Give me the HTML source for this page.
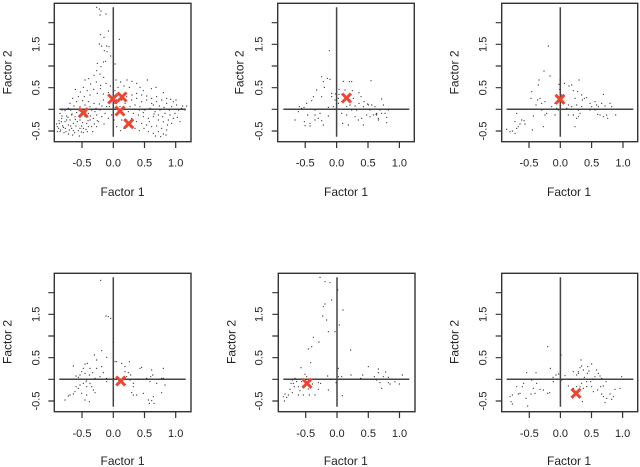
<!DOCTYPE html>
<html><head><meta charset="utf-8"><style>
html,body{margin:0;padding:0;background:#fff;}
svg{display:block;font-family:"Liberation Sans",Arial,sans-serif;}
.t{font-size:11px;fill:#222;}
.ti{font-size:12px;fill:#222;}
.bx{fill:none;stroke:#333;stroke-width:1.4;}
.ln{stroke:#444;stroke-width:1.5;}
.tk{stroke:#333;stroke-width:1.2;}
.d{fill:none;stroke:#222;stroke-width:3.6;stroke-linecap:round;}
.x{stroke:#ee4430;stroke-width:3;}
</style></head><body>
<svg width="640" height="467" viewBox="0 0 640 467" xmlns="http://www.w3.org/2000/svg">
<rect width="640" height="467" fill="#fff"/>

<!-- ============ PANEL 1 ============ -->
<g>
<rect class="bx" x="54.3" y="3.3" width="136.7" height="138.4"/>
<path class="tk" d="M82 141.7v6.3M113.3 141.7v6.3M144.5 141.7v6.3M175.7 141.7v6.3M82 141.7H175.7"/>
<path class="tk" d="M54.3 22.7h-6M54.3 44.3h-6M54.3 66h-6M54.3 87.7h-6M54.3 109.3h-6M54.3 131h-6"/>
<text class="t" x="82" y="166.7" text-anchor="middle">-0.5</text>
<text class="t" x="113.3" y="166.7" text-anchor="middle">0.0</text>
<text class="t" x="144.5" y="166.7" text-anchor="middle">0.5</text>
<text class="t" x="175.7" y="166.7" text-anchor="middle">1.0</text>
<text class="t" transform="translate(39.5,44.3) rotate(-90)" text-anchor="middle">1.5</text>
<text class="t" transform="translate(39.5,87.7) rotate(-90)" text-anchor="middle">0.5</text>
<text class="t" transform="translate(39.5,131) rotate(-90)" text-anchor="middle">-0.5</text>
<text class="ti" x="122.5" y="196" text-anchor="middle">Factor 1</text>
<text class="ti" transform="translate(11.7,72.5) rotate(-90)" text-anchor="middle">Factor 2</text>
<path class="ln" d="M113.3 7.3V136.7M59.3 109.3H185.7"/>
<g transform="scale(0.33333)">
<path class="d" d="M290 22h.1M298 27h.1M303 33h.1M318 42h.1M300 45h.1M325 93h.1M301 104h.1M312 112h.1M298 132h.1M305 138h.1M320 138h.1M327 140h.1M313 152h.1M321 155h.1M332 168h.1M358 118h.1M310 186h.1M317 184h.1M292 190h.1M345 192h.1M303 200h.1
M290 212h.1M282 226h.1M300 222h.1M311 232h.1M266 236h.1M255 240h.1M289 246h.1M318 250h.1M302 256h.1M272 252h.1M250 262h.1M226 268h.1M241 276h.1M262 272h.1M281 268h.1M301 266h.1M331 258h.1M348 240h.1M362 246h.1M381 240h.1M396 244h.1M410 250h.1M442 240h.1M468 262h.1M490 278h.1M354 262h.1M372 258h.1M388 262h.1M420 262h.1M430 272h.1M454 266h.1M345 272h.1M235 290h.1M218 295h.1M253 290h.1M270 285h.1M292 280h.1M310 282h.1M325 278h.1
M180 340h.1M185 355h.1M178 370h.1M190 382h.1M182 390h.1M195 365h.1M200 348h.1M205 375h.1M210 360h.1M198 395h.1M215 385h.1M220 370h.1M225 350h.1M230 338h.1M212 330h.1M240 360h.1M245 378h.1M235 392h.1M250 385h.1M260 370h.1M255 350h.1M265 340h.1M270 360h.1M275 380h.1M262 395h.1M280 355h.1M285 335h.1M290 345h.1M296 365h.1M300 330h.1M305 350h.1M290 380h.1M270 320h.1M255 315h.1M240 320h.1M222 318h.1M210 310h.1M230 305h.1M248 302h.1M265 305h.1M282 310h.1M298 312h.1M188 378h.1M176 385h.1M192 398h.1M205 402h.1M218 405h.1M238 408h.1M172 380h.1M184 365h.1M196 385h.1M208 390h.1M228 378h.1M242 345h.1M252 328h.1M275 330h.1M283 372h.1M265 380h.1M215 345h.1M205 325h.1M195 332h.1M220 392h.1M186 348h.1M177 362h.1M232 365h.1M248 368h.1M258 388h.1M172 395h.1M244 396h.1M212 378h.1M200 360h.1M226 358h.1M237 332h.1M310 300h.1M320 320h.1M315 340h.1M325 355h.1M312 372h.1
M380 290h.1M395 300h.1M410 295h.1M425 305h.1M440 300h.1M455 310h.1M470 305h.1M485 300h.1M500 310h.1M515 320h.1M530 315h.1M545 325h.1M390 320h.1M405 315h.1M420 320h.1M435 330h.1M450 325h.1M465 335h.1M480 330h.1M495 340h.1M510 345h.1M525 340h.1M400 340h.1M415 345h.1M430 350h.1M445 355h.1M460 350h.1M475 360h.1M490 365h.1M505 360h.1M520 355h.1M410 365h.1M425 370h.1M440 375h.1M455 380h.1M470 378h.1M485 385h.1M500 390h.1M445 395h.1M460 400h.1M475 395h.1M490 402h.1M395 355h.1M385 335h.1M375 310h.1M365 300h.1M360 320h.1M370 345h.1M380 360h.1M392 375h.1M405 385h.1M418 392h.1M432 385h.1M448 365h.1M462 342h.1M478 318h.1M492 322h.1M508 330h.1M520 305h.1M536 330h.1M548 318h.1M470 290h.1M455 295h.1M440 288h.1M425 285h.1M410 280h.1M396 285h.1M500 295h.1M512 298h.1M528 300h.1M350 300h.1M355 335h.1M365 360h.1M372 385h.1M362 392h.1M350 380h.1M342 360h.1M335 345h.1M328 320h.1M345 310h.1M460 315h.1M475 345h.1M488 350h.1M502 375h.1M515 370h.1M430 338h.1M418 330h.1M405 328h.1M498 405h.1M482 410h.1M466 408h.1M560 318h.1M555 330h.1M532 352h.1M540 365h.1
M216 342h.1M204 352h.1M258 336h.1M272 348h.1M288 325h.1M306 318h.1M240 385h.1M250 398h.1M224 398h.1M180 395h.1M264 362h.1M278 395h.1M292 362h.1M186 330h.1M170 372h.1"/>
</g>
<path class="x" d="M78.8 108.2l9 9M87.8 108.2l-9 9M108.2 94.5l9 9M117.2 94.5l-9 9M117.5 92.5l9 9M126.5 92.5l-9 9M115.5 106.5l9 9M124.5 106.5l-9 9M124.2 119.2l9 9M133.2 119.2l-9 9"/>
</g>

<!-- ============ PANEL 2 ============ -->
<g>
<rect class="bx" x="277.7" y="3.3" width="136.6" height="138.4"/>
<path class="tk" d="M305.2 141.7v6.3M336.6 141.7v6.3M368 141.7v6.3M399.4 141.7v6.3M305.2 141.7H399.4"/>
<path class="tk" d="M277.7 22.7h-6M277.7 44.3h-6M277.7 66h-6M277.7 87.7h-6M277.7 109.3h-6M277.7 131h-6"/>
<text class="t" x="305.2" y="166.7" text-anchor="middle">-0.5</text>
<text class="t" x="336.6" y="166.7" text-anchor="middle">0.0</text>
<text class="t" x="368" y="166.7" text-anchor="middle">0.5</text>
<text class="t" x="399.4" y="166.7" text-anchor="middle">1.0</text>
<text class="t" transform="translate(262.5,44.3) rotate(-90)" text-anchor="middle">1.5</text>
<text class="t" transform="translate(262.5,87.7) rotate(-90)" text-anchor="middle">0.5</text>
<text class="t" transform="translate(262.5,131) rotate(-90)" text-anchor="middle">-0.5</text>
<text class="ti" x="346" y="196" text-anchor="middle">Factor 1</text>
<text class="ti" transform="translate(243.3,72.5) rotate(-90)" text-anchor="middle">Factor 2</text>
<path class="ln" d="M336.6 7.3V136.7M283.3 109.3H409.3"/>
<g transform="translate(215,0) scale(0.33333)">
<path class="d" d="M343 152h.1M320 230h.1M337 235h.1M325 245h.1M345 238h.1M328 262h.1M305 270h.1M295 290h.1M320 290h.1M350 290h.1M372 268h.1M385 244h.1M403 245h.1M410 245h.1M468 242h.1M390 270h.1M412 272h.1M432 278h.1M438 290h.1M415 295h.1M447 305h.1M460 315h.1M500 297h.1M505 315h.1M520 330h.1M240 360h.1M268 365h.1M270 377h.1M285 378h.1M285 370h.1M250 335h.1M260 325h.1M275 310h.1M290 302h.1M300 330h.1M315 340h.1M325 375h.1M300 360h.1M310 355h.1M340 322h.1M340 348h.1M360 300h.1M370 310h.1M380 340h.1M383 370h.1M395 345h.1M400 375h.1M410 330h.1M420 350h.1M430 360h.1M440 355h.1M445 375h.1M455 345h.1M465 330h.1M470 315h.1M480 320h.1M485 345h.1M490 360h.1M495 330h.1M510 340h.1M515 352h.1M515 368h.1M485 340h.1M465 350h.1M432 310h.1M420 318h.1M405 315h.1M395 320h.1M380 305h.1M370 295h.1M355 320h.1M267 322h.1M253 320h.1M278 345h.1M300 345h.1M320 362h.1M350 280h.1M362 282h.1M372 283h.1M405 300h.1M425 330h.1M445 320h.1M458 312h.1M475 345h.1M483 343h.1M490 355h.1M500 340h.1"/>
</g>
<path class="x" d="M342 93.5l9 9M351 93.5l-9 9"/>
</g>

<!-- ============ PANEL 3 ============ -->
<g>
<rect class="bx" x="501.7" y="3.3" width="136" height="138.4"/>
<path class="tk" d="M529 141.7v6.3M560.3 141.7v6.3M591.6 141.7v6.3M623 141.7v6.3M529 141.7H623"/>
<path class="tk" d="M501.7 22.7h-6M501.7 44.3h-6M501.7 66h-6M501.7 87.7h-6M501.7 109.3h-6M501.7 131h-6"/>
<text class="t" x="529" y="166.7" text-anchor="middle">-0.5</text>
<text class="t" x="560.3" y="166.7" text-anchor="middle">0.0</text>
<text class="t" x="591.6" y="166.7" text-anchor="middle">0.5</text>
<text class="t" x="623" y="166.7" text-anchor="middle">1.0</text>
<text class="t" transform="translate(486.7,44.3) rotate(-90)" text-anchor="middle">1.5</text>
<text class="t" transform="translate(486.7,87.7) rotate(-90)" text-anchor="middle">0.5</text>
<text class="t" transform="translate(486.7,131) rotate(-90)" text-anchor="middle">-0.5</text>
<text class="ti" x="569" y="196" text-anchor="middle">Factor 1</text>
<text class="ti" transform="translate(458.3,72.5) rotate(-90)" text-anchor="middle">Factor 2</text>
<path class="ln" d="M560.3 7.3V136.7M506.7 109.3H633.3"/>
<g transform="translate(425,0) scale(0.33333)">
<path class="d" d="M370 138h.1M357 213h.1M375 228h.1M342 240h.1M340 255h.1M320 275h.1M318 295h.1M345 295h.1M350 310h.1M333 315h.1M338 300h.1M360 305h.1M360 345h.1M355 380h.1M325 348h.1M322 390h.1M245 388h.1M255 395h.1M262 393h.1M270 400h.1M275 385h.1M280 380h.1M285 372h.1M290 360h.1M297 362h.1M300 372h.1M270 365h.1M275 340h.1M390 310h.1M390 345h.1M405 240h.1M402 253h.1M404 268h.1M410 285h.1M415 310h.1M418 250h.1M432 258h.1M440 255h.1M445 272h.1M450 295h.1M458 275h.1M462 240h.1M455 315h.1M460 330h.1M472 300h.1M478 295h.1M485 293h.1M470 320h.1M440 320h.1M430 315h.1M425 325h.1M445 345h.1M455 355h.1M460 350h.1M465 340h.1M450 380h.1M430 345h.1M495 310h.1M500 320h.1M510 305h.1M515 315h.1M520 320h.1M530 310h.1M540 318h.1M510 330h.1M525 345h.1M535 350h.1M545 345h.1M555 310h.1M560 320h.1M548 355h.1M572 345h.1M535 283h.1M495 330h.1M518 343h.1M470 285h.1M400 330h.1M395 325h.1M380 320h.1M365 340h.1M350 330h.1"/>
</g>
<path class="x" d="M555.5 94.8l9 9M564.5 94.8l-9 9"/>
</g>

<!-- ============ PANEL 4 ============ -->
<g>
<rect class="bx" x="54.3" y="273.3" width="136.7" height="138.4"/>
<path class="tk" d="M82 411.7v6.3M113.3 411.7v6.3M144.5 411.7v6.3M175.7 411.7v6.3M82 411.7H175.7"/>
<path class="tk" d="M54.3 292.7h-6M54.3 314.3h-6M54.3 336h-6M54.3 357.7h-6M54.3 379.3h-6M54.3 401h-6"/>
<text class="t" x="82" y="437" text-anchor="middle">-0.5</text>
<text class="t" x="113.3" y="437" text-anchor="middle">0.0</text>
<text class="t" x="144.5" y="437" text-anchor="middle">0.5</text>
<text class="t" x="175.7" y="437" text-anchor="middle">1.0</text>
<text class="t" transform="translate(39.5,314.3) rotate(-90)" text-anchor="middle">1.5</text>
<text class="t" transform="translate(39.5,357.7) rotate(-90)" text-anchor="middle">0.5</text>
<text class="t" transform="translate(39.5,401) rotate(-90)" text-anchor="middle">-0.5</text>
<text class="ti" x="122.5" y="465" text-anchor="middle">Factor 1</text>
<text class="ti" transform="translate(11.7,342) rotate(-90)" text-anchor="middle">Factor 2</text>
<path class="ln" d="M113.3 277.3V406.7M59.3 379.3H185.7"/>
<g transform="translate(0,240) scale(0.33333)">
<path class="d" d="M302 121h.1M318 228h.1M325 230h.1M332 235h.1M340 307h.1M305 332h.1M283 345h.1M320 352h.1M290 360h.1M262 370h.1M255 372h.1M270 385h.1M290 385h.1M305 380h.1M250 385h.1M245 395h.1M240 405h.1M255 400h.1M220 378h.1M228 408h.1M235 412h.1M268 405h.1M278 398h.1M310 398h.1M345 365h.1M350 365h.1M365 370h.1M375 380h.1M388 365h.1M375 395h.1M385 398h.1M392 405h.1M380 410h.1M390 420h.1M420 385h.1M425 382h.1M455 390h.1M458 405h.1M490 385h.1M485 415h.1M490 415h.1M495 435h.1M485 458h.1M460 470h.1M455 482h.1M445 480h.1M448 490h.1M462 490h.1M430 460h.1M410 465h.1M400 465h.1M395 458h.1M400 440h.1M400 430h.1M365 425h.1M340 415h.1M320 415h.1M300 410h.1M285 415h.1M260 420h.1M250 430h.1M260 440h.1M270 430h.1M275 440h.1M280 450h.1M285 458h.1M260 465h.1M245 460h.1M235 445h.1M228 440h.1M225 455h.1M220 462h.1M210 465h.1M195 480h.1M205 468h.1M240 435h.1M255 480h.1M268 485h.1M258 425h.1M320 425h.1M450 425h.1M452 410h.1M470 430h.1M440 415h.1M415 418h.1"/>
</g>
<path class="x" d="M116.2 376.5l9 9M125.2 376.5l-9 9"/>
</g>

<!-- ============ PANEL 5 ============ -->
<g>
<rect class="bx" x="278.3" y="273.3" width="136.7" height="138.4"/>
<path class="tk" d="M305.7 411.7v6.3M337 411.7v6.3M368.3 411.7v6.3M399.5 411.7v6.3M305.7 411.7H399.5"/>
<path class="tk" d="M278.3 292.7h-6M278.3 314.3h-6M278.3 336h-6M278.3 357.7h-6M278.3 379.3h-6M278.3 401h-6"/>
<text class="t" x="305.7" y="437" text-anchor="middle">-0.5</text>
<text class="t" x="337" y="437" text-anchor="middle">0.0</text>
<text class="t" x="368.3" y="437" text-anchor="middle">0.5</text>
<text class="t" x="399.5" y="437" text-anchor="middle">1.0</text>
<text class="t" transform="translate(262.5,314.3) rotate(-90)" text-anchor="middle">1.5</text>
<text class="t" transform="translate(262.5,357.7) rotate(-90)" text-anchor="middle">0.5</text>
<text class="t" transform="translate(262.5,401) rotate(-90)" text-anchor="middle">-0.5</text>
<text class="ti" x="345.8" y="465" text-anchor="middle">Factor 1</text>
<text class="ti" transform="translate(235.7,342) rotate(-90)" text-anchor="middle">Factor 2</text>
<path class="ln" d="M337 277.3V406.7M283.3 379.3H409.3"/>
<g transform="translate(215,240) scale(0.33333)">
<path class="d" d="M315 112h.1M330 125h.1M345 128h.1M368 150h.1M350 180h.1M330 192h.1M325 200h.1M384 210h.1M323 228h.1M335 240h.1M360 275h.1M373 255h.1M340 275h.1M295 292h.1M312 306h.1M290 320h.1M280 327h.1M287 368h.1M258 383h.1M270 403h.1M275 410h.1M407 330h.1M460 380h.1M490 387h.1M490 398h.1M512 396h.1M505 410h.1M520 412h.1M443 405h.1M437 415h.1M408 405h.1M380 410h.1M370 385h.1M370 410h.1M338 408h.1M346 418h.1M363 428h.1M382 467h.1M340 450h.1M317 430h.1M310 448h.1M300 465h.1M283 465h.1M265 465h.1M255 452h.1M250 440h.1M245 425h.1M240 415h.1M232 420h.1M228 430h.1M238 440h.1M232 458h.1M220 465h.1M210 462h.1M205 470h.1M208 483h.1M215 472h.1M225 448h.1M235 430h.1M250 465h.1M260 425h.1M280 447h.1M292 432h.1M310 428h.1M485 420h.1M495 428h.1M500 445h.1M520 428h.1M525 432h.1M553 432h.1M540 425h.1M562 405h.1M478 410h.1"/>
</g>
<path class="x" d="M302.5 378.8l9 9M311.5 378.8l-9 9"/>
</g>

<!-- ============ PANEL 6 ============ -->
<g>
<rect class="bx" x="501.7" y="273.3" width="136" height="138.4"/>
<path class="tk" d="M529.3 411.7v6.3M560.4 411.7v6.3M591.5 411.7v6.3M622.6 411.7v6.3M529.3 411.7H622.6"/>
<path class="tk" d="M501.7 292.7h-6M501.7 314.3h-6M501.7 336h-6M501.7 357.7h-6M501.7 379.3h-6M501.7 401h-6"/>
<text class="t" x="529.3" y="437" text-anchor="middle">-0.5</text>
<text class="t" x="560.4" y="437" text-anchor="middle">0.0</text>
<text class="t" x="591.5" y="437" text-anchor="middle">0.5</text>
<text class="t" x="622.6" y="437" text-anchor="middle">1.0</text>
<text class="t" transform="translate(486.7,314.3) rotate(-90)" text-anchor="middle">1.5</text>
<text class="t" transform="translate(486.7,357.7) rotate(-90)" text-anchor="middle">0.5</text>
<text class="t" transform="translate(486.7,401) rotate(-90)" text-anchor="middle">-0.5</text>
<text class="ti" x="569" y="465" text-anchor="middle">Factor 1</text>
<text class="ti" transform="translate(458.3,342) rotate(-90)" text-anchor="middle">Factor 2</text>
<path class="ln" d="M560.4 277.3V406.7M506.7 379.3H633.3"/>
<g transform="translate(425,240) scale(0.33333)">
<path class="d" d="M368 320h.1M408 345h.1M376 385h.1M384 412h.1M393 405h.1M401 402h.1M410 420h.1M420 407h.1M435 418h.1M445 395h.1M460 400h.1M468 360h.1M465 383h.1M460 395h.1M455 405h.1M475 390h.1M470 378h.1M488 380h.1M500 372h.1M492 393h.1M487 400h.1M478 412h.1M515 390h.1M520 400h.1M525 408h.1M530 415h.1M510 410h.1M503 418h.1M497 425h.1M485 425h.1M470 430h.1M465 440h.1M455 440h.1M445 445h.1M430 438h.1M475 445h.1M485 440h.1M500 440h.1M505 455h.1M518 450h.1M527 440h.1M535 438h.1M543 425h.1M530 462h.1M535 470h.1M540 488h.1M545 475h.1M555 462h.1M560 478h.1M565 470h.1M570 448h.1M585 445h.1M590 410h.1M472 485h.1M305 398h.1M333 398h.1M320 420h.1M335 430h.1M325 445h.1M345 448h.1M355 450h.1M368 460h.1M374 458h.1M296 430h.1M292 440h.1M285 460h.1M280 462h.1M275 440h.1M262 465h.1M255 470h.1M258 485h.1M262 492h.1M303 475h.1M308 498h.1M385 425h.1M318 462h.1M330 460h.1"/>
</g>
<path class="x" d="M571.5 388.8l9 9M580.5 388.8l-9 9"/>
</g>
</svg>
</body></html>
